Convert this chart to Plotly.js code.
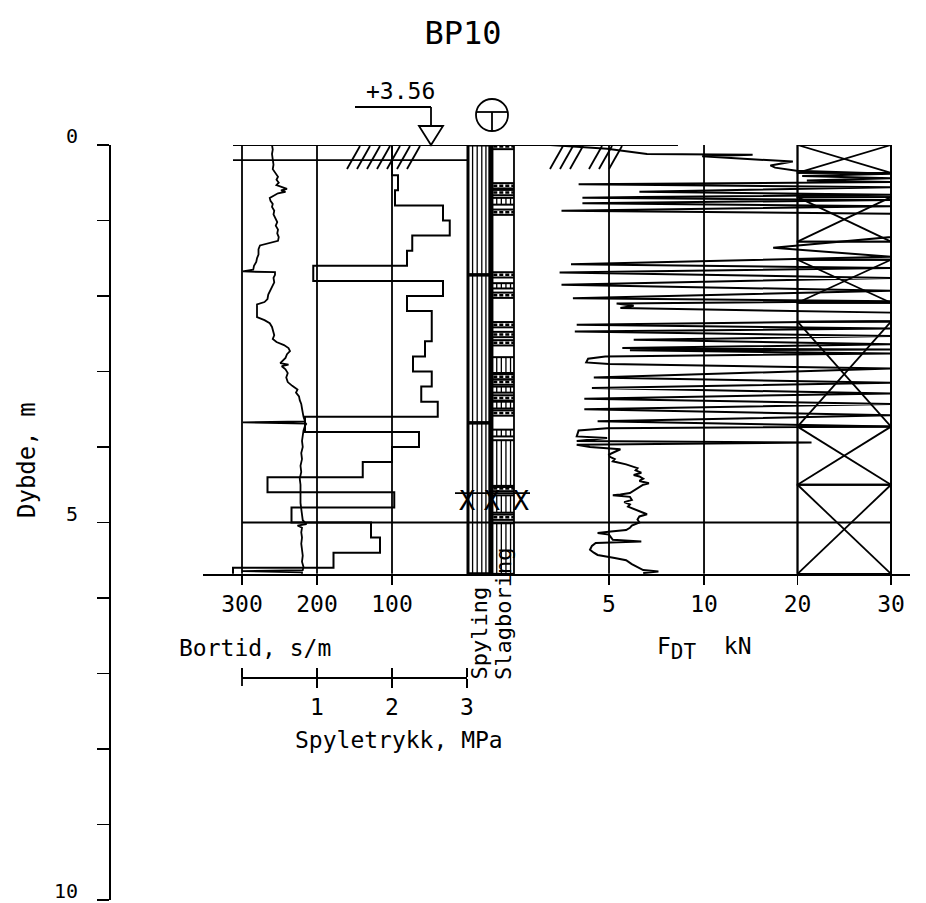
<!DOCTYPE html>
<html><head><meta charset="utf-8">
<script src="https://cdn.plot.ly/plotly-3.0.1.min.js"></script>
<style>html,body{margin:0;padding:0;background:#fff}#chart{width:926px;height:903px}</style>
</head><body><div id="chart"></div>
<script>
// ---------------- DATA ----------------
const chartTitle = 'BP10';
const groundLevel = '+3.56';
const bottomDepth = 5.68;

// Bortid (s/m), steps of 0.2 m (tops)
const bortidTop = [0,0.2,0.4,0.6,0.8,1.0,1.2,1.4,1.6,1.8,2.0,2.2,2.4,2.6,2.8,3.0,3.2,3.4,3.6,3.8,4.0,4.2,4.4,4.6,4.8,5.0,5.2,5.4,5.6];
const bortidVal = [100,100,92,96,32,23,73,80,205,32,80,47,47,56,72,47,61,39,216,64,100,139,266,97,234,128,116,178,312];

// Spyletrykk (MPa)
const spyleDepth = [0.00,0.06,0.12,0.20,0.26,0.32,0.37,0.42,0.46,0.50,0.53,0.56,0.58,0.60,0.62,0.64,0.68,0.70,0.74,0.78,0.82,0.87,0.92,0.97,1.02,1.07,1.12,1.17,1.22,1.27,1.30,1.33,1.38,1.45,1.50,1.55,1.60,1.65,1.675,1.685,1.72,1.76,1.82,1.88,1.93,1.98,2.04,2.08,2.11,2.16,2.22,2.28,2.32,2.36,2.41,2.46,2.52,2.57,2.61,2.65,2.69,2.73,2.77,2.82,2.86,2.89,2.91,2.93,2.97,3.02,3.08,3.14,3.19,3.24,3.28,3.33,3.38,3.43,3.49,3.55,3.60,3.66,3.675,3.69,3.72,3.78,3.85,3.92,4.00,4.08,4.16,4.25,4.33,4.42,4.50,4.58,4.66,4.74,4.82,4.90,4.97,5.02,5.04,5.07,5.13,5.20,5.28,5.36,5.44,5.52,5.59,5.63,5.645,5.66,5.68];
const spyleMPa   = [0.40,0.41,0.40,0.41,0.42,0.41,0.44,0.48,0.46,0.49,0.46,0.55,0.60,0.52,0.58,0.48,0.40,0.37,0.38,0.41,0.40,0.43,0.42,0.45,0.47,0.45,0.48,0.47,0.49,0.48,0.35,0.24,0.22,0.22,0.20,0.19,0.16,0.15,0.01,0.44,0.44,0.42,0.43,0.40,0.38,0.35,0.34,0.30,0.20,0.20,0.21,0.20,0.30,0.37,0.40,0.41,0.43,0.41,0.46,0.56,0.62,0.64,0.60,0.58,0.54,0.51,0.62,0.53,0.58,0.61,0.59,0.61,0.67,0.74,0.72,0.76,0.77,0.79,0.80,0.81,0.82,0.84,0.01,0.86,0.84,0.82,0.81,0.80,0.81,0.79,0.80,0.78,0.79,0.77,0.78,0.78,0.77,0.78,0.79,0.80,0.81,0.86,0.74,0.80,0.79,0.80,0.79,0.80,0.81,0.80,0.82,0.81,0.00,0.80,0.80];

// F_DT (kN)
const fdtDepth = [0.00,0.05,0.12,0.13,0.15,0.22,0.27,0.30,0.34,0.38,0.41,0.44,0.47,0.49,0.52,0.56,0.62,0.66,0.69,0.70,0.73,0.77,0.81,0.87,0.91,1.22,1.36,1.48,1.58,1.63,1.69,1.76,1.85,1.93,2.03,2.07,2.10,2.13,2.16,2.22,2.33,2.38,2.43,2.47,2.53,2.58,2.64,2.69,2.71,2.72,2.76,2.80,2.83,2.88,2.90,2.96,3.08,3.15,3.22,3.29,3.36,3.43,3.50,3.58,3.66,3.73,3.75,3.78,3.86,3.88,3.92,3.94,3.97,4.00,4.03,4.07,4.10,4.13,4.16,4.19,4.23,4.28,4.31,4.34,4.37,4.39,4.42,4.45,4.48,4.50,4.53,4.57,4.61,4.63,4.64,4.66,4.70,4.73,4.76,4.79,4.83,4.86,4.89,4.92,4.96,5.00,5.04,5.07,5.10,5.12,5.14,5.16,5.20,5.23,5.25,5.26,5.27,5.31,5.36,5.40,5.43,5.47,5.50,5.55,5.60,5.63,5.65,5.67];
const fdtKN    = [1.9,4.9,7.0,15.2,9.9,19.5,17.1,17.6,19.9,30,20.5,30,21.0,30,3.4,30,6.6,30,6.6,3.6,30,3.6,30,2.5,30,30,17.4,30,3.0,30,2.4,30,2.5,30,3.1,30,5.4,6.3,5.6,30,30,3.3,30,3.2,30,6.3,30,5.7,30,6.1,30,4.8,3.9,3.8,5.0,30,4.2,30,4.1,30,3.7,30,3.7,30,4.4,30,4.9,3.4,3.3,4.9,3.3,21.5,3.3,4.0,5.6,5.3,5.0,5.05,5.3,5.2,5.9,6.5,6.4,6.7,6.3,6.6,6.8,6.6,7.1,6.8,6.6,6.4,6.1,5.6,5.2,6.1,6.2,5.8,6.1,6.0,6.4,6.6,7.0,6.6,6.5,6.6,6.2,6.1,5.9,5.1,4.4,5.0,5.1,5.2,6.7,5.2,4.3,4.1,4.0,4.2,4.4,5.3,5.9,6.2,6.6,6.8,7.6,6.8];

// Boxes in the 20-30 kN column
const crossBoxTop = [0.00,0.69,1.52,2.34,3.73,4.50];
const crossBoxBot = [0.37,1.28,2.09,3.73,4.50,5.68];
const plainBoxTop = [0.37,1.28,2.09];
const plainBoxBot = [0.69,1.52,2.34];

// Slagboring column: hammering intervals and marker bars
const hatchTop = [0.70,1.83,2.81,3.20,3.40,3.77,3.91,4.64,5.01];
const hatchBot = [0.79,1.90,3.02,3.28,3.49,3.86,4.53,4.87,5.68];
const dashDepth = [0.02,0.54,0.63,0.89,1.72,1.99,2.38,2.51,2.62,3.07,3.14,3.35,3.55,4.55,4.93];
// Spyling column: rod joints
const rodDepth = [1.72,3.68];
// stop marks
const stopLineDepth = 4.61;
const stopMarkDepth = [4.75,4.75,4.75];
const stopMarkPos = [-0.04,1.04,2.30];

// Tick labels
const depthTicks = [0,1,2,3,4,5,6,7,8,9,10];
const depthLabels = [0,5,10];
const bortidTicks = [300,200,100];
const spyleTicks = [0,1,2,3];
const spyleLabels = [1,2,3];
const fdtTicks = [5,10,20,30];

// ---------------- LAYOUT HELPERS ----------------
const W=926,H=903,L=109,R=16,T=145,B=3;
const PW=W-L-R, PH=H-T-B;
const fx=p=>(p-L)/PW, fy=p=>(H-B-p)/PH;
const FONT='DejaVu Sans Mono, monospace';
const LW=1.8;
// F_DT axis: linear 0-10, compressed 10-30
const fu = F => F<=10 ? F : 10+(F-10)*0.492;

const ax = {
  x:  {domain:[fx(203),fx(467)], range:[352,0]},
  x2: {domain:[fx(242),fx(467)], range:[0,3]},
  x4: {domain:[fx(455),fx(530)], range:[-0.565,2.696]},
  x5: {domain:[fx(514),1], range:[0,20.84]}
};
function toPaper(a,v){const d=ax[a].domain,r=ax[a].range;return d[0]+(v-r[0])/(r[1]-r[0])*(d[1]-d[0]);}

const shapes=[];
function ln(xref,yref,x0,y0,x1,y1,w,dash){shapes.push({type:'line',xref,yref,x0,y0,x1,y1,layer:'above',line:{color:'#000',width:w||LW,dash:dash||'solid'}});}

// left panel verticals
bortidTicks.forEach(v=>ln('x','y',v,0,v,bottomDepth));
// F_DT verticals
fdtTicks.forEach(v=>ln('x5','y',fu(v),0,fu(v),bottomDepth));
// horizontal at 5 m
ln('paper','y',toPaper('x2',0),5,toPaper('x5',fu(30)),5);
// ground lines
ln('paper','y',toPaper('x',312),0,toPaper('x5',fu(8.63)),0);
ln('paper','y',toPaper('x',312),0.2,toPaper('x',0),0.2);

// box column
crossBoxTop.forEach((t,i)=>{const b=crossBoxBot[i];
  shapes.push({type:'rect',xref:'x5',yref:'y',x0:fu(20),x1:fu(30),y0:t,y1:b,line:{color:'#000',width:LW},layer:'above'});
  ln('x5','y',fu(20),t,fu(30),b); ln('x5','y',fu(30),t,fu(20),b);});
plainBoxTop.forEach((t,i)=>shapes.push({type:'rect',xref:'x5',yref:'y',x0:fu(20),x1:fu(30),y0:t,y1:plainBoxBot[i],line:{color:'#000',width:LW},layer:'above'}));

// Spyling column
shapes.push({type:'rect',xref:'x4',yref:'y',x0:0,x1:0.95,y0:0,y1:bottomDepth,line:{color:'#000',width:3},layer:'above'});
[0.2,0.4,0.6,0.78].forEach(v=>ln('x4','y',v,0,v,bottomDepth,1.3));
rodDepth.forEach(d=>ln('x4','y',0,d,0.95,d,3.5));
// Slagboring column
shapes.push({type:'rect',xref:'x4',yref:'y',x0:1.0,x1:2.0,y0:0,y1:bottomDepth,line:{color:'#000',width:LW},layer:'above'});
ln('x4','y',1.03,0,1.03,bottomDepth,3.5);
hatchTop.forEach((t,i)=>{const b=hatchBot[i];
  ln('x4','y',1.0,t,2.0,t,2); ln('x4','y',1.0,b,2.0,b,2);
  [1.25,1.45,1.65,1.85].forEach(v=>ln('x4','y',v,t,v,b,1.3));});
dashDepth.forEach(d=>{ln('x4','y',1.0,d-0.035,2.0,d-0.035,2); ln('x4','y',1.0,d+0.035,2.0,d+0.035,2);
  ln('x4','y',1.1,d,2.0,d,2.5,'4px,2px');});
ln('x4','y',-0.565,stopLineDepth,2.696,stopLineDepth);

// Top decorations (paper coordinates)
function pl(x0,y0,x1,y1,w){ln('paper','paper',fx(x0),fy(y0),fx(x1),fy(y1),w||LW);}
pl(355,107,431,107); pl(431,107,431,126);
shapes.push({type:'path',xref:'paper',yref:'paper',path:`M ${fx(419)} ${fy(126)} L ${fx(443)} ${fy(126)} L ${fx(431)} ${fy(145)} Z`,line:{color:'#000',width:LW},fillcolor:'#fff'});
shapes.push({type:'circle',xref:'paper',yref:'paper',x0:fx(476),x1:fx(508),y0:fy(131),y1:fy(99),line:{color:'#000',width:LW}});
pl(477,112,507,112); pl(492,112,492,130);
[347,357,367,377,387,397,407,550,560,570,589,599,609].forEach(b=>pl(b,169,b+13,146));
// left end tick of the Spyletrykk scale (downward half)
const spTick0 = toPaper('x2',0);
shapes.push({type:'line',xref:'paper',yref:'paper',x0:spTick0,x1:spTick0,y0:fy(677),y1:fy(686),line:{color:'#000',width:LW}});

// ---------------- TRACES ----------------
const bx = bortidVal.concat([bortidVal[bortidVal.length-1]]);
const by = bortidTop.concat([bottomDepth]);
const traces = [
 {x:bx,y:by,xaxis:'x',yaxis:'y',mode:'lines',line:{color:'#000',width:2,shape:'vh'},hoverinfo:'skip'},
 {x:spyleMPa,y:spyleDepth,xaxis:'x2',yaxis:'y',mode:'lines',line:{color:'#000',width:1.8},hoverinfo:'skip'},
 {x:spyleMPa,y:spyleDepth,xaxis:'x3',yaxis:'y',mode:'lines',line:{color:'rgba(0,0,0,0)',width:0},hoverinfo:'skip'},
 {x:fdtKN.map(fu),y:fdtDepth,xaxis:'x5',yaxis:'y',mode:'lines',line:{color:'#000',width:2},hoverinfo:'skip'},
 {x:stopMarkPos,y:stopMarkDepth,xaxis:'x4',yaxis:'y',mode:'text',text:['X','X','X'],textfont:{family:FONT,size:27,color:'#000'},cliponaxis:false,hoverinfo:'skip'}
];

const baseX = {showgrid:false,zeroline:false,anchor:'free',linecolor:'#000',tickcolor:'#000',tickfont:{family:FONT,size:23,color:'#000'}};
const posBottom = fy(574), posSpyle = fy(677);

const annFont = {family:FONT,size:23,color:'#000'};
function ann(text,x,y,xa,ya,extra){return Object.assign({text,xref:'paper',yref:'paper',x:fx(x),y:fy(y),xanchor:xa,yanchor:ya,showarrow:false,font:annFont},extra||{});}

const annotations = [
  ann(groundLevel,400,91,'center','middle'),
  ann('Bortid, s/m',177,648,'left','middle'),
  ann('F<sub><span style="font-size:21px">DT</span></sub>\u00a0\u00a0kN',655,648,'left','middle'),
  ann('Spyletrykk, MPa',293,740,'left','middle'),
  ann('Spyling',479,682,'center','bottom',{textangle:-90,font:{family:FONT,size:22,color:'#000'}}),
  ann('Slagboring',503,682,'center','bottom',{textangle:-90,font:{family:FONT,size:22,color:'#000'}}),
  ann('Dybde, m',27,460,'center','middle',{textangle:-90,font:{family:FONT,size:24,color:'#000'}})
];
depthLabels.forEach(v=>annotations.push({text:String(v),xref:'paper',yref:'y',x:fx(80),y:v,xanchor:'right',yanchor:'middle',yshift:9,showarrow:false,font:{family:FONT,size:20,color:'#000'}}));

const layout = {
 width:W,height:H,margin:{l:L,r:R,t:T,b:B},paper_bgcolor:'#fff',plot_bgcolor:'rgba(0,0,0,0)',showlegend:false,
 title:{text:chartTitle,font:{family:FONT,size:32,color:'#000'},x:0.5,xref:'container',xanchor:'center',y:1-33/H,yref:'container',yanchor:'middle'},
 yaxis:{range:[10,0],domain:[0,1],anchor:'free',position:0,showline:true,linecolor:'#000',linewidth:LW,ticks:'outside',ticklen:12,tickwidth:LW,tickcolor:'#000',
        tickvals:depthTicks,showticklabels:false,showgrid:false,zeroline:false},
 xaxis:Object.assign({},baseX,{domain:ax.x.domain,range:ax.x.range,position:posBottom,showline:true,linewidth:LW,ticks:'outside',ticklen:9,tickwidth:LW,tickvals:bortidTicks}),
 xaxis2:Object.assign({},baseX,{domain:ax.x2.domain,range:ax.x2.range,position:posSpyle,showline:true,linewidth:LW,ticks:'outside',ticklen:9,tickwidth:LW,tickvals:spyleLabels}),
 xaxis3:Object.assign({},baseX,{domain:ax.x2.domain,range:ax.x2.range,position:posSpyle,side:'top',showline:false,ticks:'outside',ticklen:9,tickwidth:LW,tickvals:spyleTicks,showticklabels:false}),
 xaxis4:Object.assign({},baseX,{domain:ax.x4.domain,range:ax.x4.range,position:posBottom,showline:true,linewidth:LW,ticks:'',showticklabels:false}),
 xaxis5:Object.assign({},baseX,{domain:ax.x5.domain,range:ax.x5.range,position:posBottom,showline:true,linewidth:LW,ticks:'outside',ticklen:9,tickwidth:LW,tickvals:fdtTicks.map(fu),ticktext:fdtTicks.map(String)}),
 shapes:shapes,
 annotations:annotations
};
Plotly.newPlot('chart',traces,layout,{displayModeBar:false,staticPlot:true});
</script></body></html>
